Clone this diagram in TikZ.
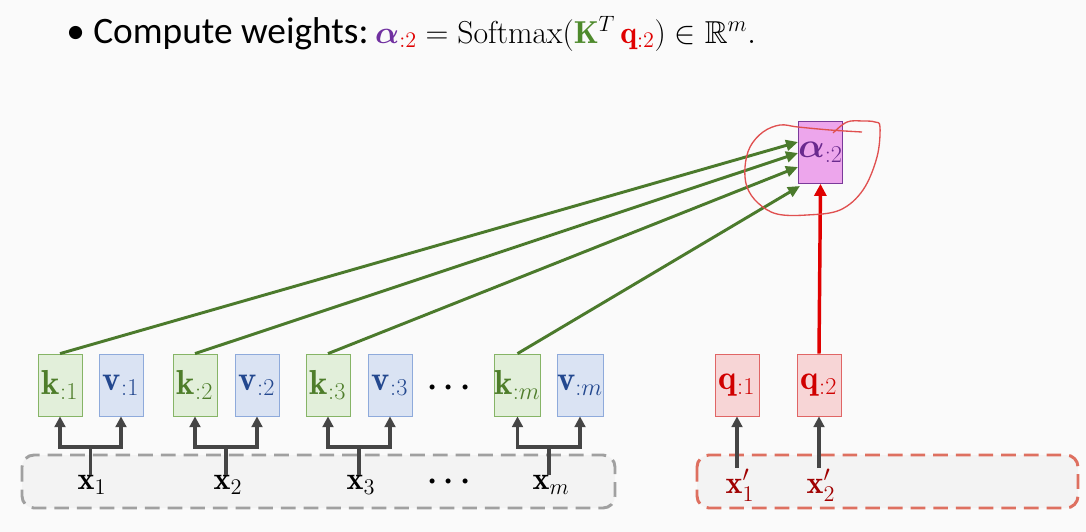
\RequirePackage{fix-cm}
\documentclass[tikz,border=0pt]{standalone}
\usepackage{amsmath,amssymb}
\usepackage{fontspec}
\newfontfamily\carlito{Carlito}
\usetikzlibrary{arrows.meta}
\newcommand\biglab[1]{{\fontsize{26}{30}\selectfont$#1$}}
\newcommand\inlab[1]{{\fontsize{24}{28}\selectfont$#1$}}
\definecolor{bgc}{HTML}{FAFAFA}
\definecolor{kfill}{HTML}{E2EFDA}
\definecolor{kdraw}{HTML}{86B466}
\definecolor{ktext}{HTML}{4E7D2A}
\definecolor{vfill}{HTML}{DAE3F3}
\definecolor{vdraw}{HTML}{8EAADB}
\definecolor{vtext}{HTML}{23488F}
\definecolor{qfill}{HTML}{F7D5D6}
\definecolor{qdraw}{HTML}{E06565}
\definecolor{qtext}{HTML}{D00000}
\definecolor{afill}{HTML}{EDA6EC}
\definecolor{adraw}{HTML}{7A3A9A}
\definecolor{atext}{HTML}{6A2A8E}
\definecolor{greenarrow}{HTML}{4B7A2C}
\definecolor{redarrow}{HTML}{E00000}
\definecolor{grayarrow}{HTML}{454545}
\definecolor{dashgray}{HTML}{A0A0A0}
\definecolor{dashred}{HTML}{DE7060}
\definecolor{boxfill}{HTML}{F3F3F3}
\definecolor{xred}{HTML}{A00000}
\definecolor{titlepurple}{HTML}{7030A0}
\definecolor{titlered}{HTML}{E00000}
\definecolor{titlegreen}{HTML}{4E8A2C}
\definecolor{circred}{HTML}{E05050}
\tikzset{
  vec/.style={minimum width=33pt, minimum height=46.5pt, inner sep=0pt, line width=0.6pt},
  kbox/.style={vec, fill=kfill, draw=kdraw, text=ktext},
  vbox/.style={vec, fill=vfill, draw=vdraw, text=vtext},
  qbox/.style={vec, fill=qfill, draw=qdraw, text=qtext},
  abox/.style={vec, fill=afill, draw=adraw, text=atext},
  xlab/.style={inner sep=0.5pt},
  dotlab/.style={inner sep=0pt},
  branch/.style={draw=grayarrow, line width=2.4pt, {Triangle[length=8pt,width=8pt]}-{Triangle[length=8pt,width=8pt]}},
  stem/.style={draw=grayarrow, line width=2.4pt},
  uparrow/.style={draw=grayarrow, line width=2.4pt, -{Triangle[length=8pt,width=8pt]}},
  garrow/.style={draw=greenarrow, line width=2.2pt, -{Triangle[length=9pt,width=8pt]}},
  rarrow/.style={draw=redarrow, line width=2.6pt, -{Triangle[length=9pt,width=9pt]}},
  graybox/.style={draw=dashgray, fill=boxfill, line width=2.2pt, dash pattern=on 11pt off 6pt, rounded corners=9pt},
  redbox/.style={draw=dashred, fill=boxfill, line width=2.2pt, dash pattern=on 11pt off 6pt, rounded corners=9pt},
}
\begin{document}
\begin{tikzpicture}[x=0.75pt,y=-0.75pt]
\fill[bgc] (0,0) rectangle (1086,532);
\useasboundingbox (0,0) rectangle (1086,532);
% title
\node[anchor=base west, inner sep=0pt, font=\fontsize{28}{32}\selectfont] (title) at (66,43)
  {{\carlito \textbullet\ Compute weights:}\hspace{5pt}{\fontsize{23.8}{28}\selectfont$\textcolor{titlepurple}{\boldsymbol{\alpha}}_{\textcolor{titlered}{:2}} = \mathrm{Softmax}(\textcolor{titlegreen}{\mathbf{K}}^{T}\,\textcolor{titlered}{\mathbf{q}_{:2}}) \in \mathbb{R}^{m}.$}};
% dashed containers
\draw[graybox] (22,455) rectangle (615,508);
\draw[redbox] (697,455) rectangle (1078,508);
% vector boxes
\node[kbox] (k1) at (60,385) {\biglab{\mathbf{k}_{:1}}};
\node[vbox] (v1) at (121,385) {\biglab{\mathbf{v}_{:1}}};
\node[kbox] (k2) at (195,385) {\biglab{\mathbf{k}_{:2}}};
\node[vbox] (v2) at (257,385) {\biglab{\mathbf{v}_{:2}}};
\node[kbox] (k3) at (328,385) {\biglab{\mathbf{k}_{:3}}};
\node[vbox] (v3) at (390,385) {\biglab{\mathbf{v}_{:3}}};
\node[dotlab] (dtop) at (452,388) {\inlab{\boldsymbol{\cdots}}};
\node[kbox] (km) at (517.5,385) {\biglab{\mathbf{k}_{:m}}};
\node[vbox] (vm) at (580,385) {\biglab{\mathbf{v}_{:m}}};
\node[qbox] (q1) at (737,385) {\biglab{\mathbf{q}_{:1}}};
\node[qbox] (q2) at (819,385) {\biglab{\mathbf{q}_{:2}}};
\node[abox] (a2) at (820.5,152.5) {\biglab{\boldsymbol{\alpha}_{:2}}};
% inputs
\node[xlab] (x1) at (92,485) {\inlab{\mathbf{x}_1}};
\node[xlab] (x2) at (228,485) {\inlab{\mathbf{x}_2}};
\node[xlab] (x3) at (361,485) {\inlab{\mathbf{x}_3}};
\node[dotlab] (dbot) at (452,482) {\inlab{\boldsymbol{\cdots}}};
\node[xlab] (xm) at (551,485) {\inlab{\mathbf{x}_m}};
\node[xlab, text=xred] (xp1) at (740,485) {\inlab{\mathbf{x}'_1}};
\node[xlab, text=xred] (xp2) at (821,485) {\inlab{\mathbf{x}'_2}};
% junctions
\coordinate (j1) at (90.5,447);
\coordinate (j2) at (226,447);
\coordinate (j3) at (359,447);
\coordinate (jm) at (549,447);
\draw[branch] (k1.south) |- (j1) -| (v1.south);
\draw[branch] (k2.south) |- (j2) -| (v2.south);
\draw[branch] (k3.south) |- (j3) -| (v3.south);
\draw[branch] (km.south) |- (jm) -| (vm.south);
\draw[stem] (x1.north -| j1) -- (j1);
\draw[stem] (x2.north -| j2) -- (j2);
\draw[stem] (x3.north -| j3) -- (j3);
\draw[stem] (xm.north -| jm) -- (jm);
\draw[uparrow] (xp1.north -| q1.south) -- (q1.south);
\draw[uparrow] (xp2.north -| q2.south) -- (q2.south);
% green arrows
\coordinate (e1) at (798,142);
\coordinate (e2) at (798,153);
\coordinate (e3) at (798,167);
\coordinate (e4) at (800,186);
\draw[garrow] (k1.north) -- (e1);
\draw[garrow] (k2.north) -- (e2);
\draw[garrow] (k3.north) -- (e3);
\draw[garrow] (km.north) -- (e4);
% red arrow
\draw[rarrow] (q2.north) -- (a2.south);
% hand-drawn circle
\draw[circred, line width=1pt] plot[smooth, tension=0.6] coordinates {
 (862,132) (830,130) (798,127) (780,125) (763,132) (750,147) (745,167) (747,187) (758,203) (777,214) (807,215) (840,210) (863,190) (877,157) (880,127) (875,122) (863,121) (847,122) (833,133)};
\end{tikzpicture}
\end{document}
